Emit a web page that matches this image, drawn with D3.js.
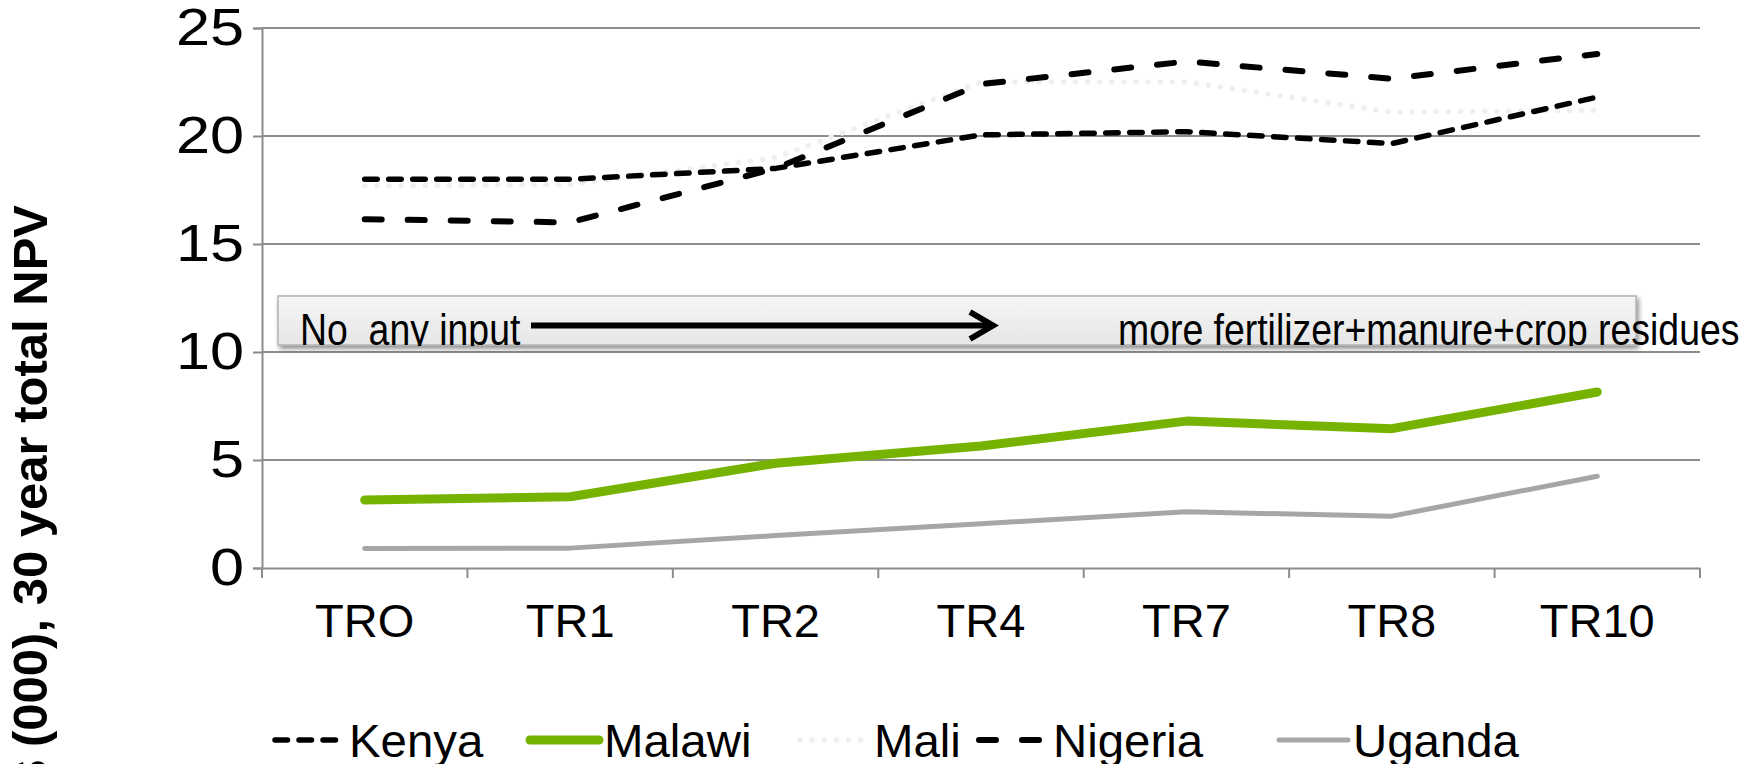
<!DOCTYPE html>
<html>
<head>
<meta charset="utf-8">
<script src="https://cdn.jsdelivr.net/npm/d3@7"></script>
<style>
  html, body { margin: 0; padding: 0; background: #ffffff; }
  svg { display: block; }
  text { font-family: "Liberation Sans", Arial, sans-serif; fill: #000; }
</style>
</head>
<body>
<svg id="chart" width="1754" height="764"></svg>
<script>
// Treatments (x categories)
const categories = ["TRO", "TR1", "TR2", "TR4", "TR7", "TR8", "TR10"];
const yTicks = [0, 5, 10, 15, 20, 25];

// 30-year total NPV, thousands of US$, by country
const kenya   = [18.0, 18.0, 18.5, 20.05, 20.2, 19.65, 21.8];
const malawi  = [3.15, 3.3, 4.85, 5.65, 6.8, 6.45, 8.15];
const mali    = [17.7, 17.75, 19.0, 22.5, 22.5, 21.1, 21.2];
const nigeria = [16.15, 16.0, 18.5, 22.4, 23.45, 22.65, 23.8];
const uganda  = [0.9, 0.92, 1.5, 2.05, 2.6, 2.4, 4.25];

const seriesNames = ["Kenya", "Malawi", "Mali", "Nigeria", "Uganda"];
const seriesValues = [kenya, malawi, mali, nigeria, uganda];

const styles = {
  Kenya:   { color: "#000000", width: 5.5, dash: "12.5,11.5" },
  Malawi:  { color: "#76b300", width: 9,   dash: null },
  Mali:    { color: "#efefef", width: 5.5, dash: "0.1,12" },
  Nigeria: { color: "#000000", width: 6,   dash: "17,26" },
  Uganda:  { color: "#a6a6a6", width: 5,   dash: null }
};

const svg = d3.select("#chart");
const plotLeft = 262, plotRight = 1700, plotTop = 28, plotBottom = 568;

const x = d3.scaleBand().domain(categories).range([plotLeft, plotRight]);
const y = d3.scaleLinear().domain([0, 25]).range([plotBottom, plotTop]);

const gridColor = "#8c8c8c";

// horizontal gridlines
svg.append("g").selectAll("line").data(yTicks.filter(d => d > 0)).join("line")
  .attr("x1", plotLeft).attr("x2", plotRight)
  .attr("y1", d => y(d)).attr("y2", d => y(d))
  .attr("stroke", gridColor).attr("stroke-width", 2);

// y axis (wide numerals)
const yAxis = svg.append("g").attr("transform", `translate(${plotLeft},0)`)
  .call(d3.axisLeft(y).tickValues(yTicks).tickSize(9).tickPadding(6).tickFormat(d3.format("d")));
yAxis.select(".domain").attr("stroke", gridColor).attr("stroke-width", 2);
yAxis.selectAll(".tick line").attr("stroke", gridColor).attr("stroke-width", 2);
yAxis.selectAll(".tick text")
  .attr("font-family", "'Liberation Sans', Arial, sans-serif")
  .attr("font-size", 51).attr("fill", "#000")
  .attr("transform", "scale(1.2,1)");

// x axis with ticks at band boundaries
const xAxis = svg.append("g").attr("transform", `translate(0,${plotBottom})`)
  .call(d3.axisBottom(x).tickSize(0).tickPadding(36));
xAxis.select(".domain").attr("stroke", gridColor).attr("stroke-width", 2);
xAxis.selectAll(".tick text")
  .attr("font-family", "'Liberation Sans', Arial, sans-serif")
  .attr("font-size", 47).attr("fill", "#000");
const bounds = categories.map(c => x(c)).concat([x(categories[categories.length - 1]) + x.bandwidth()]);
svg.append("g").selectAll("line").data(bounds).join("line")
  .attr("x1", d => d).attr("x2", d => d)
  .attr("y1", plotBottom).attr("y2", plotBottom + 10)
  .attr("stroke", gridColor).attr("stroke-width", 2);

// y axis title
svg.append("text")
  .attr("transform", "translate(47,205) rotate(-90)")
  .attr("text-anchor", "end")
  .attr("font-size", 49).attr("font-weight", "bold")
  .text("US$ (000), 30 year total NPV");

// annotation box with an arrow
const defs = svg.append("defs");
const grad = defs.append("linearGradient").attr("id", "boxFill")
  .attr("x1", 0).attr("y1", 0).attr("x2", 0).attr("y2", 1);
grad.append("stop").attr("offset", "0%").attr("stop-color", "#f6f6f6");
grad.append("stop").attr("offset", "100%").attr("stop-color", "#e6e6e6");
const shadow = defs.append("filter").attr("id", "boxShadow")
  .attr("x", "-5%").attr("y", "-30%").attr("width", "110%").attr("height", "170%");
shadow.append("feGaussianBlur").attr("in", "SourceAlpha").attr("stdDeviation", 2.5).attr("result", "b");
shadow.append("feOffset").attr("in", "b").attr("dx", 2).attr("dy", 3).attr("result", "o");
shadow.append("feComponentTransfer").attr("in", "o").attr("result", "s")
  .append("feFuncA").attr("type", "linear").attr("slope", 0.45);
const merge = shadow.append("feMerge");
merge.append("feMergeNode").attr("in", "s");
merge.append("feMergeNode").attr("in", "SourceGraphic");

defs.append("clipPath").attr("id", "boxClip")
  .append("rect").attr("x", 0).attr("y", 296).attr("width", 1754).attr("height", 50);

const note = svg.append("g");
note.append("rect")
  .attr("x", 278).attr("y", 296).attr("width", 1358).attr("height", 49)
  .attr("fill", "url(#boxFill)").attr("stroke", "#b3b3b3").attr("stroke-width", 1.5)
  .attr("filter", "url(#boxShadow)");
const noteText = note.append("g").attr("clip-path", "url(#boxClip)");
noteText.append("text")
  .attr("transform", "translate(300,345) scale(0.85,1)")
  .attr("font-size", 44).style("white-space", "pre")
  .text("No  any input");
noteText.append("text")
  .attr("transform", "translate(1118,345) scale(0.85,1)")
  .attr("font-size", 44)
  .text("more fertilizer+manure+crop residues");
note.append("line").attr("x1", 531).attr("x2", 990).attr("y1", 325.5).attr("y2", 325.5)
  .attr("stroke", "#000").attr("stroke-width", 6);
note.append("polyline").attr("points", "970,312 993,325.5 970,339")
  .attr("fill", "none").attr("stroke", "#000").attr("stroke-width", 6)
  .attr("stroke-linecap", "butt").attr("stroke-linejoin", "miter");

// series lines
const line = d3.line()
  .x((d, i) => x(categories[i]) + x.bandwidth() / 2)
  .y(d => y(d));

const drawOrder = ["Uganda", "Malawi", "Mali", "Kenya", "Nigeria"];
drawOrder.forEach(name => {
  const s = styles[name];
  const vals = seriesValues[seriesNames.indexOf(name)];
  svg.append("path")
    .datum(vals)
    .attr("d", line)
    .attr("fill", "none")
    .attr("stroke", s.color)
    .attr("stroke-width", s.width)
    .attr("stroke-linecap", "round")
    .attr("stroke-linejoin", "round")
    .attr("stroke-dasharray", s.dash);
});

// legend
const legendX = [272, 527, 797, 976, 1276];
const legend = svg.append("g");
seriesNames.forEach((name, i) => {
  const s = styles[name];
  const x0 = legendX[i];
  legend.append("line")
    .attr("x1", x0 + 3).attr("x2", x0 + 72).attr("y1", 740).attr("y2", 740)
    .attr("stroke", s.color).attr("stroke-width", s.width)
    .attr("stroke-linecap", "round")
    .attr("stroke-dasharray", s.dash);
  legend.append("text")
    .attr("transform", `translate(${x0 + 77},757) scale(1.03,1)`)
    .attr("font-size", 46)
    .text(name);
});
</script>
</body>
</html>
